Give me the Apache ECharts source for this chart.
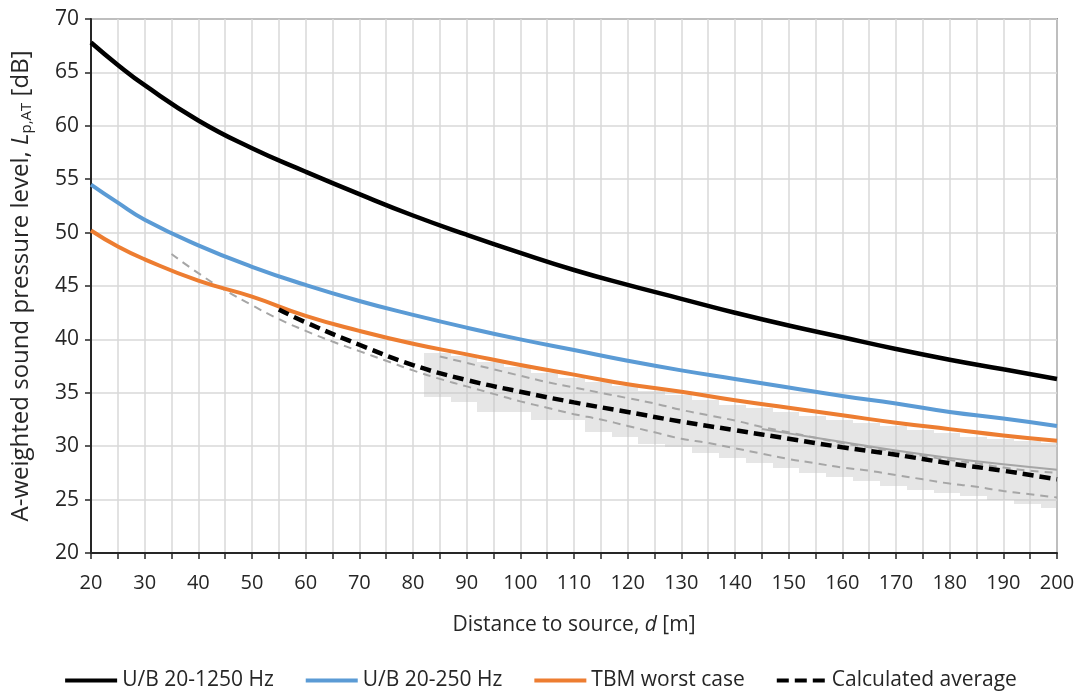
<!DOCTYPE html>
<html>
<head>
<meta charset="utf-8">
<title>Sound pressure level vs distance</title>
<script src="https://cdn.jsdelivr.net/npm/echarts@6/dist/echarts.min.js"></script>
<style>
  html, body { margin: 0; padding: 0; background: #fff; }
  #chart { width: 1082px; height: 693px; }
</style>
</head>
<body>
<div id="chart"></div>
<script>
// distances [m] the curves were read at
var dMain = [20, 25, 30, 40, 50, 60, 70, 80, 90, 100, 110, 120, 130, 140, 150, 160, 170, 180, 190, 200];
var ub1250 = [67.8, 65.7, 63.8, 60.5, 57.9, 55.7, 53.6, 51.6, 49.8, 48.1, 46.5, 45.1, 43.8, 42.5, 41.3, 40.2, 39.1, 38.1, 37.2, 36.3];
var ub250 = [54.5, 52.8, 51.2, 48.8, 46.8, 45.1, 43.6, 42.3, 41.1, 40.0, 39.0, 38.0, 37.1, 36.3, 35.5, 34.7, 34.0, 33.2, 32.6, 31.9];
var tbmWorst = [50.2, 48.7, 47.5, 45.5, 44.0, 42.2, 40.8, 39.6, 38.6, 37.6, 36.7, 35.8, 35.1, 34.3, 33.6, 32.9, 32.2, 31.6, 31.0, 30.5];

// calculated average (black dashed)
var dAvg = [55, 60, 70, 80, 90, 100, 110, 120, 130, 140, 150, 160, 170, 180, 190, 200];
var calcAvg = [42.8, 41.6, 39.5, 37.6, 36.2, 35.1, 34.1, 33.2, 32.3, 31.5, 30.7, 29.9, 29.2, 28.4, 27.7, 26.9];

// grey dashed lower curve
var dLow = [35, 40, 45, 50, 55, 60, 65, 70, 75, 80, 85, 90, 95, 100, 105, 110, 115, 120, 125, 130, 135, 140, 145, 150, 155, 160, 165, 170, 175, 180, 185, 190, 195, 200];
var greyLow = [48.0, 46.2, 44.6, 43.2, 41.9, 40.8, 39.8, 38.9, 38.0, 37.1, 36.3, 35.6, 34.9, 34.2, 33.6, 33.0, 32.5, 31.9, 31.3, 30.7, 30.3, 29.8, 29.3, 28.8, 28.4, 28.0, 27.7, 27.3, 26.9, 26.5, 26.2, 25.8, 25.5, 25.2];

// grey dashed upper curve
var dUp = [85, 90, 95, 100, 105, 110, 115, 120, 125, 130, 135, 140, 145, 150, 155, 160, 165, 170, 175, 180, 185, 190, 195, 200];
var greyUp = [38.4, 37.8, 37.2, 36.6, 36.0, 35.5, 35.0, 34.5, 34.0, 33.4, 32.9, 32.4, 31.8, 31.3, 30.8, 30.3, 29.9, 29.5, 29.1, 28.7, 28.4, 28.0, 27.7, 27.5];

// grey solid curve
var dSolid = [145, 150, 160, 170, 180, 190, 200];
var greySolid = [31.6, 31.2, 30.4, 29.6, 28.9, 28.3, 27.8];

// stepped grey band (each step holds from dBand[i] to dBand[i+1])
var dBand = [82, 87, 92, 97, 102, 107, 112, 117, 122, 127, 132, 137, 142, 147, 152, 157, 162, 167, 172, 177, 182, 187, 192, 197, 200];
var bandLow = [34.6, 34.1, 33.2, 33.2, 32.5, 32.5, 31.3, 30.9, 30.2, 29.9, 29.4, 28.9, 28.4, 28.0, 27.5, 27.1, 26.7, 26.3, 25.9, 25.6, 25.3, 25.0, 24.6, 24.2, 24.2];
var bandHigh = [38.7, 38.4, 37.9, 37.4, 36.9, 36.4, 36.0, 35.6, 35.2, 34.8, 34.3, 33.9, 33.6, 33.2, 32.8, 32.5, 32.2, 31.9, 31.5, 31.2, 30.9, 30.7, 30.5, 30.3, 30.3];

var xTicks = { min: 20, max: 200, step: 5 };
var yTicks = { min: 20, max: 70, step: 5 };

function pairs(xs, ys) {
  var out = [];
  for (var i = 0; i < xs.length; i++) {
    out.push([xs[i], ys[i]]);
  }
  return out;
}

var bandSteps = [];
for (var i = 0; i < dBand.length - 1; i++) {
  bandSteps.push([dBand[i], dBand[i + 1], bandLow[i], bandHigh[i]]);
}

var font = 'Open Sans';
var ink = '#262626';
var chart = echarts.init(document.getElementById('chart'));

var option = {
  backgroundColor: '#fff',
  animation: false,
  textStyle: { fontFamily: font, color: ink },
  grid: {
    left: 91,
    right: 25,
    top: 19,
    bottom: 140,
    show: true,
    borderColor: '#404040',
    borderWidth: 1.5,
    backgroundColor: 'transparent'
  },
  legend: {
    top: 665,
    left: 'center',
    itemWidth: 52,
    itemHeight: 4,
    itemGap: 32,
    textStyle: { fontFamily: font, fontSize: 21, color: ink },
    data: [
      { name: 'U/B 20-1250 Hz', icon: 'rect' },
      { name: 'U/B 20-250 Hz', icon: 'rect' },
      { name: 'TBM worst case', icon: 'rect' },
      { name: 'Calculated average', icon: 'path://M0,0h12v4h-12z M18,0h12v4h-12z M36,0h12v4h-12z' }
    ]
  },
  xAxis: {
    type: 'value',
    min: xTicks.min,
    max: xTicks.max,
    interval: xTicks.step,
    name: 'Distance to source, {i|d} [m]',
    nameLocation: 'middle',
    nameGap: 62,
    nameTextStyle: {
      fontFamily: font,
      fontSize: 21,
      color: ink,
      rich: { i: { fontFamily: font, fontSize: 21, fontStyle: 'italic', color: ink } }
    },
    axisLine: { show: true, lineStyle: { color: ink, width: 2 } },
    axisTick: { show: true, length: 6, lineStyle: { color: ink, width: 1.5 } },
    axisLabel: {
      margin: 20,
      fontSize: 20,
      color: ink,
      formatter: function (v) { return v % 10 === 0 ? String(v) : ''; }
    },
    splitLine: { show: true, lineStyle: { color: '#d9d9d9', width: 1.5 } }
  },
  yAxis: {
    type: 'value',
    min: yTicks.min,
    max: yTicks.max,
    interval: yTicks.step,
    name: 'A-weighted sound pressure level, {i|L}{s|p,AT} [dB]',
    nameLocation: 'middle',
    nameGap: 57,
    nameTextStyle: {
      fontFamily: font,
      fontSize: 24,
      color: ink,
      rich: {
        i: { fontFamily: font, fontSize: 24, fontStyle: 'italic', color: ink },
        s: { fontFamily: font, fontSize: 15, color: ink, verticalAlign: 'bottom', padding: [10, 0, 0, 0] }
      }
    },
    axisLine: { show: true, lineStyle: { color: ink, width: 2 } },
    axisTick: { show: true, length: 6, lineStyle: { color: ink, width: 1.5 } },
    axisLabel: { margin: 12, fontSize: 21, color: ink },
    splitLine: { show: true, lineStyle: { color: '#d9d9d9', width: 1.5 } }
  },
  series: [
    {
      name: 'band',
      type: 'custom',
      silent: true,
      z: 1,
      encode: { x: [0, 1], y: [2, 3] },
      renderItem: function (params, api) {
        var p0 = api.coord([api.value(0), api.value(3)]);
        var p1 = api.coord([api.value(1), api.value(2)]);
        var x0 = Math.round(p0[0]), x1 = Math.round(p1[0]);
        var y0 = Math.round(p0[1]), y1 = Math.round(p1[1]);
        return {
          type: 'rect',
          shape: { x: x0, y: y0, width: x1 - x0, height: y1 - y0 },
          style: { fill: 'rgba(195,195,195,0.42)' }
        };
      },
      data: bandSteps
    },
    {
      name: 'grey solid',
      type: 'line',
      symbol: 'none',
      smooth: true,
      z: 2,
      lineStyle: { color: '#a6a6a6', width: 2 },
      data: pairs(dSolid, greySolid)
    },
    {
      name: 'grey upper',
      type: 'line',
      symbol: 'none',
      smooth: true,
      z: 2,
      lineStyle: { color: '#a6a6a6', width: 2, type: [8, 6] },
      data: pairs(dUp, greyUp)
    },
    {
      name: 'grey lower',
      type: 'line',
      symbol: 'none',
      smooth: true,
      z: 2,
      lineStyle: { color: '#a6a6a6', width: 2, type: [8, 6] },
      data: pairs(dLow, greyLow)
    },
    {
      name: 'TBM worst case',
      type: 'line',
      symbol: 'none',
      smooth: true,
      z: 3,
      itemStyle: { color: '#ed7d31' },
      lineStyle: { color: '#ed7d31', width: 4 },
      data: pairs(dMain, tbmWorst)
    },
    {
      name: 'U/B 20-250 Hz',
      type: 'line',
      symbol: 'none',
      smooth: true,
      z: 3,
      itemStyle: { color: '#5b9bd5' },
      lineStyle: { color: '#5b9bd5', width: 4 },
      data: pairs(dMain, ub250)
    },
    {
      name: 'U/B 20-1250 Hz',
      type: 'line',
      symbol: 'none',
      smooth: true,
      z: 3,
      itemStyle: { color: '#000' },
      lineStyle: { color: '#000', width: 4.5 },
      data: pairs(dMain, ub1250)
    },
    {
      name: 'Calculated average',
      type: 'line',
      symbol: 'none',
      smooth: true,
      z: 4,
      itemStyle: { color: '#000' },
      lineStyle: { color: '#000', width: 4.5, type: [11, 6] },
      data: pairs(dAvg, calcAvg)
    }
  ]
};

chart.setOption(option);
</script>
</body>
</html>
